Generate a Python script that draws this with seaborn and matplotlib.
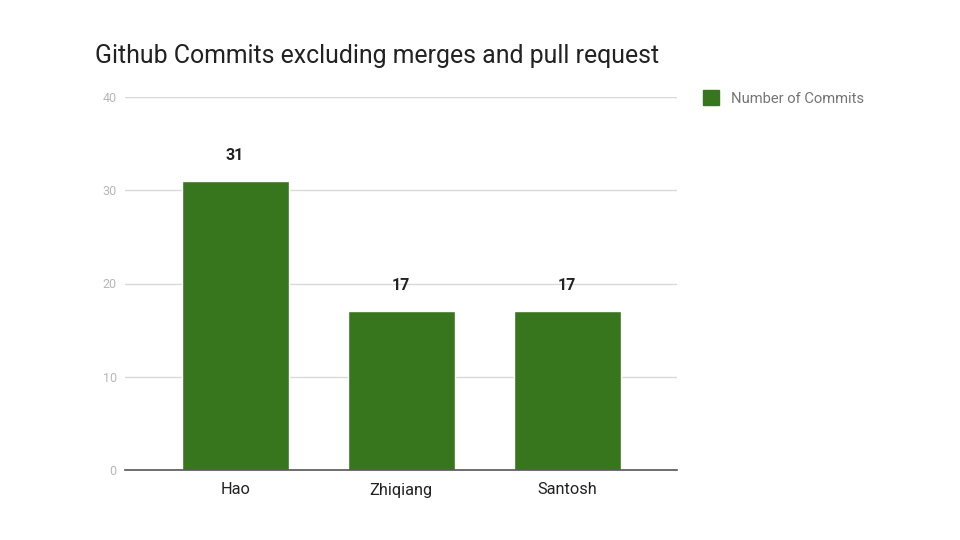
import matplotlib
matplotlib.use("Agg")
import matplotlib.pyplot as plt
import seaborn as sns
import pandas as pd
from matplotlib.patches import Patch

# chart data
names = ["Hao", "Zhiqiang", "Santosh"]
commits = [31, 17, 17]
y_ticks = [0, 10, 20, 30, 40]

sns.set_style("white")
plt.rcParams["font.family"] = ["Roboto", "DejaVu Sans"]

bar_color = "#38761d"
df = pd.DataFrame({"name": names, "commits": commits})

fig = plt.figure(figsize=(9.6, 5.4), dpi=100)
ax = fig.add_axes([125 / 960, 70 / 540, 552 / 960, 373 / 540])

sns.barplot(data=df, x="name", y="commits", color=bar_color, width=0.645,
            saturation=1, ax=ax, zorder=3)

ax.set_xlim(-0.663, 2.662)
ax.set_ylim(0, 40)
ax.set_yticks(y_ticks)
ax.set_yticklabels([str(t) for t in y_ticks], color="#b7b7b7", fontsize=9)
ax.tick_params(axis="y", length=0, pad=6)
ax.tick_params(axis="x", length=0, pad=9, labelsize=11.8, labelcolor="#222222")
ax.grid(axis="y", color="#d9d9d9", linewidth=1, zorder=0)
ax.set_xlabel("")
ax.set_ylabel("")
for s in ["top", "right", "left"]:
    ax.spines[s].set_visible(False)
ax.spines["bottom"].set_color("#555555")
ax.spines["bottom"].set_linewidth(1.2)
ax.spines["bottom"].set_zorder(4)

# value labels above bars
for i, v in enumerate(commits):
    ax.annotate(str(v), (i, v), xytext=(0, 13), textcoords="offset points",
                ha="center", va="bottom", fontsize=11.5, fontweight="bold",
                color="#222222")

fig.text(95 / 960, 1 - 56 / 540, "Github Commits excluding merges and pull request",
         fontsize=17.9, color="#222222", ha="left", va="center")

handle = Patch(facecolor=bar_color, edgecolor=bar_color)
fig.legend([handle], ["Number of Commits"], loc="center left",
           bbox_to_anchor=(690 / 960, 1 - 98 / 540), frameon=False,
           fontsize=10.6, labelcolor="#757575", handlelength=1.1, handleheight=1.1,
           handletextpad=0.8)

fig.savefig("out.png", dpi=100)
